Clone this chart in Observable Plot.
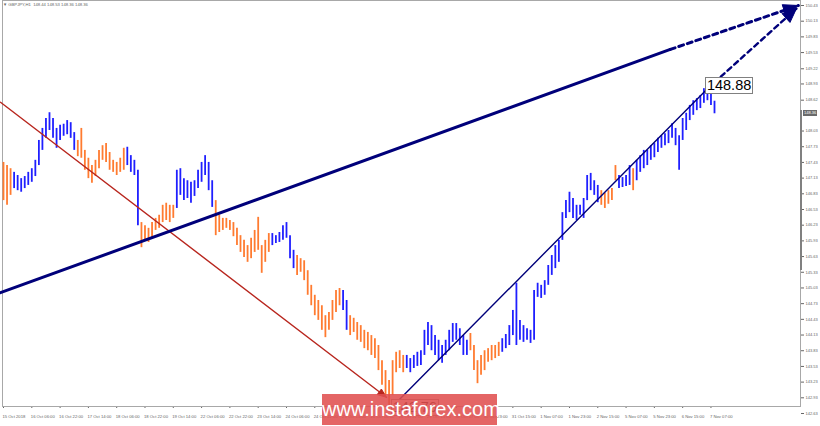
<!DOCTYPE html>
<html>
<head>
<meta charset="utf-8">
<script src="https://cdn.jsdelivr.net/npm/d3@7"></script>
<script src="https://cdn.jsdelivr.net/npm/@observablehq/plot@0.6"></script>
<style>
  body { margin: 0; background: #fff; }
  #wrap { position: relative; width: 820px; height: 426px; overflow: hidden; font-family: "Liberation Sans", Arial, sans-serif; }
  #wrap svg { position: absolute; left: 0; top: 0; }
  .hdr { position: absolute; left: 3px; top: 2px; font-size: 4.2px; color: #666; white-space: pre; }
  .lbl { position: absolute; background: #fff; border: 1px solid #808080; font-family: "Liberation Sans", Arial, sans-serif; font-size: 14.5px; line-height: 15px; padding: 0 1px; color: #000; white-space: nowrap; }
  .cur { position: absolute; background: #6a6a6a; color: #fff; font-size: 4px; line-height: 6px; padding: 0 1px; white-space: nowrap; }
  .strip { position: absolute; background: #808080; }
  .wm { position: absolute; background: rgba(224, 80, 80, 0.88); color: #fff; font-family: "Liberation Sans", Arial, sans-serif; font-size: 20px; text-align: center; line-height: 30px; }
</style>
</head>
<body>
<div id="wrap"></div>
<script>
// ---------- data ----------
const symbolName = "GBPJPY,H1";
const headerOHLC = [148.44, 148.53, 148.36, 148.36];

// 2-hour bars starting 15 Oct 2018 14:00 (high / low prices)
const highs = [
147.43,147.37,147.31,147.24,147.18,147.12,147.16,147.24,147.31,147.47,
147.85,148.08,148.27,148.38,148.27,148.08,148.14,148.16,148.23,148.19,
148.00,147.85,148.08,147.66,147.51,147.37,147.47,147.66,147.75,147.79,
147.62,147.47,147.43,147.51,147.70,147.72,147.56,147.47,147.28,146.28,
146.22,146.17,146.28,146.36,146.42,146.61,146.65,146.61,146.61,147.28,
147.31,147.12,147.08,147.05,147.08,147.28,147.43,147.56,147.43,147.08,
146.70,146.42,146.36,146.36,146.32,146.28,146.17,146.03,145.94,145.84,
145.98,146.13,146.38,145.84,145.94,146.07,146.07,146.03,146.09,146.22,
146.28,146.03,145.75,145.65,145.59,145.55,145.36,145.08,144.89,144.79,
144.69,144.50,144.56,144.79,144.98,145.02,144.98,144.79,144.50,144.45,
144.37,144.31,144.22,144.18,144.12,144.06,143.93,143.64,143.45,143.26,
143.64,143.80,143.83,143.74,143.74,143.68,143.74,143.80,143.83,144.22,
144.37,144.31,144.12,144.03,143.93,144.03,144.22,144.35,144.35,144.25,
144.12,144.03,144.16,143.93,143.64,143.74,143.83,143.87,143.93,143.93,
143.99,144.06,144.14,144.31,144.60,145.12,144.41,144.31,144.25,144.22,
144.98,145.12,145.08,145.17,145.46,145.65,145.84,145.94,146.47,146.70,
146.86,146.74,146.61,146.61,146.74,147.18,147.22,147.08,146.99,146.89,
146.84,146.89,146.93,147.37,147.18,147.14,147.18,147.37,147.31,147.47,
147.56,147.66,147.66,147.75,147.79,147.89,147.94,147.98,148.04,148.17,
148.08,147.94,148.27,148.37,148.52,148.61,148.65,148.71,148.84,148.88,
148.84,148.60
];
const lows = [
146.70,146.61,146.80,146.93,146.89,146.86,146.93,146.99,147.05,147.16,
147.37,147.66,147.89,148.04,147.89,147.70,147.85,147.93,147.96,147.89,
147.66,147.54,147.51,147.28,147.12,147.03,147.16,147.31,147.47,147.43,
147.28,147.24,147.18,147.24,147.28,147.37,147.24,147.18,146.22,145.80,
145.94,145.90,145.98,146.13,146.17,146.28,146.32,146.28,146.36,146.55,
146.80,146.70,146.74,146.65,146.78,146.93,147.05,147.18,146.89,146.57,
146.03,146.09,146.13,146.17,146.13,146.01,145.84,145.71,145.61,145.52,
145.59,145.71,145.75,145.31,145.52,145.71,145.84,145.88,145.90,145.94,
145.98,145.59,145.40,145.27,145.33,145.17,144.89,144.69,144.50,144.41,
144.22,144.08,144.22,144.41,144.56,144.69,144.60,144.22,144.12,144.18,
144.03,143.99,143.87,143.83,143.74,143.68,143.45,143.17,142.97,142.76,
142.97,143.41,143.49,143.41,143.49,143.41,143.49,143.53,143.55,143.74,
143.93,143.83,143.74,143.64,143.59,143.74,143.83,143.99,144.03,143.93,
143.74,143.74,143.83,143.45,143.20,143.36,143.45,143.61,143.64,143.68,
143.72,143.80,143.87,143.93,144.12,143.93,144.03,143.99,144.03,143.97,
144.03,144.85,144.83,144.89,145.08,145.27,145.40,145.52,145.94,146.36,
146.47,146.36,146.32,146.42,146.36,146.70,146.89,146.80,146.66,146.61,
146.55,146.63,146.70,147.08,146.93,146.95,146.97,146.99,146.89,147.08,
147.24,147.31,147.37,147.47,147.52,147.62,147.70,147.75,147.79,147.89,
147.75,147.28,147.85,148.04,148.23,148.33,148.42,148.46,148.56,148.61,
148.52,148.36
];
// wave colouring: bar index where each wave starts, and its direction
const waveStarts = [0, 3, 21, 35, 39, 49, 60, 76, 83, 96, 98, 114, 132, 141, 169, 174, 178, 179];
const waveKinds  = ["down","up","down","up","down","up","down","up","down","up","down","up","down","up","down","up","down","up"];

// time axis labels, one every 16 hourly bars
const timeLabels = ["15 Oct 2018","16 Oct 06:00","16 Oct 22:00","17 Oct 14:00","18 Oct 06:00","18 Oct 22:00",
  "19 Oct 14:00","22 Oct 06:00","22 Oct 22:00","23 Oct 14:00","24 Oct 06:00","24 Oct 22:00","25 Oct 14:00",
  "26 Oct 06:00","26 Oct 22:00","29 Oct 15:00","30 Oct 07:00","30 Oct 23:00","31 Oct 15:00","1 Nov 07:00",
  "1 Nov 23:00","2 Nov 15:00","5 Nov 07:00","5 Nov 23:00","6 Nov 15:00","7 Nov 07:00"];
const priceTicks = [150.43,150.13,149.83,149.53,149.22,148.93,148.62,148.03,147.73,147.43,147.13,146.83,
  146.53,146.23,145.93,145.63,145.33,145.03,144.73,144.43,144.13,143.83,143.53,143.23,142.93,142.63];
const lastPrice = 148.36;
const peakMark = [398, 148.88];  // [hour, price]
const lowMark  = [218, 142.76];

// trend lines: [hour, price] anchors
const trendDown     = [[-1.7, 148.58], [216.5, 142.94]];
const channelTop    = [[-1.7, 144.94], [377, 149.59]];
const channelTopExt = [[377, 149.59], [449.4, 150.43]];
const trendUp       = [[223.3, 142.88], [398, 148.84]];
const trendUpExt    = [[398, 148.84], [448.3, 150.37]];

// ---------- layout ----------
const W = 820, H = 426;
const xDom = [0, 402], xRng = [3, 714];
const yDom = [142.63, 150.43], yRng = [413, 5];
const px = h => xRng[0] + (h - xDom[0]) * (xRng[1] - xRng[0]) / (xDom[1] - xDom[0]);
const py = p => yRng[0] + (p - yDom[0]) * (yRng[1] - yRng[0]) / (yDom[1] - yDom[0]);
const hx = x => xDom[0] + (x - xRng[0]) * (xDom[1] - xDom[0]) / (xRng[1] - xRng[0]);
const pp = y => yDom[0] + (y - yRng[0]) * (yDom[1] - yDom[0]) / (yRng[1] - yRng[0]);

function waveAt(j) {
  let k = 0;
  for (let s = 0; s < waveStarts.length; s++) if (j >= waveStarts[s]) k = s;
  return waveKinds[k];
}
const bars = highs.map((hi, j) => ({hour: 2 * j, hi, lo: lows[j], wave: waveAt(j)}));
const pts = a => a.map(([h, p]) => ({h, p}));

function arrowHead(seg, len, half) {
  const [a, b] = seg;
  const ax = px(a[0]), ay = py(a[1]), bx = px(b[0]), by = py(b[1]);
  const d = Math.hypot(bx - ax, by - ay), ux = (bx - ax) / d, uy = (by - ay) / d;
  const cx = bx - ux * len, cy = by - uy * len;
  const P = [[bx, by], [cx - uy * half, cy + ux * half], [cx + uy * half, cy - ux * half], [bx, by]];
  return P.map(([x, y]) => ({h: hx(x), p: pp(y)}));
}

const RED = "#b8261e", NAVY = "#00007a";
const lineOpts = (stroke, w, extra = {}) => Object.assign({x: "h", y: "p", stroke, strokeWidth: w}, extra);

const chart = Plot.plot({
  width: W, height: H,
  marginLeft: 2, marginRight: 20, marginTop: 0, marginBottom: 20,
  x: {domain: xDom, range: xRng, ticks: timeLabels.map((_, k) => 16 * k), tickFormat: () => "", tickSize: 2, label: null},
  y: {domain: yDom, range: yRng, axis: "right", ticks: priceTicks, tickFormat: d => d.toFixed(2), tickSize: 3, tickPadding: 2, label: null},
  color: {domain: ["down", "up"], range: ["#ff7b30", "#1f1fff"]},
  style: {fontSize: "4px", fontFamily: "Liberation Sans, Arial, sans-serif", color: "#666", background: "#fff"},
  marks: [
    Plot.frame({stroke: "#a8a8a8"}),
    Plot.ruleX(bars, {x: "hour", y1: "lo", y2: "hi", stroke: "wave", strokeWidth: 1.8}),
    Plot.line(pts(trendDown), lineOpts(RED, 1.4)),
    Plot.line(arrowHead(trendDown, 9, 3.5), lineOpts(RED, 1, {fill: RED})),
    Plot.line(pts(channelTop), lineOpts(NAVY, 3)),
    Plot.line(pts(channelTopExt), lineOpts(NAVY, 3, {strokeDasharray: "5,4"})),
    Plot.line(pts(trendUp), lineOpts(NAVY, 1.4)),
    Plot.line(pts(trendUpExt), lineOpts(NAVY, 2.4, {strokeDasharray: "5,4"})),
    Plot.line(arrowHead(channelTopExt, 15, 6), lineOpts(NAVY, 1, {fill: NAVY})),
    Plot.line(arrowHead(trendUpExt, 14, 6), lineOpts(NAVY, 1, {fill: NAVY})),
    Plot.text(timeLabels, {x: (d, k) => 16 * k, frameAnchor: "bottom", dy: 11, dx: -1, textAnchor: "start", text: d => d, fontSize: 4.2, fill: "#666"})
  ]
});

const wrap = document.getElementById("wrap");
wrap.appendChild(chart);

function addDiv(cls, text, css) {
  const el = document.createElement("div");
  el.className = cls;
  el.textContent = text;
  Object.assign(el.style, css);
  wrap.appendChild(el);
  return el;
}
addDiv("hdr", "\u25BC " + symbolName + "  " + headerOHLC.map(v => v.toFixed(2)).join(" "), {});
addDiv("strip", "", {left: "800px", top: "110px", width: "1.5px", height: "160px"});
addDiv("cur", lastPrice.toFixed(2), {left: "803px", top: (py(lastPrice) - 3) + "px"});
addDiv("lbl", peakMark[1].toFixed(2), {left: (px(peakMark[0]) - 2) + "px", top: (py(peakMark[1]) - 9) + "px"});
addDiv("lbl", lowMark[1].toFixed(2), {left: (px(lowMark[0]) + 2) + "px", top: (py(lowMark[1]) - 7) + "px"});
addDiv("wm", "www.instaforex.com", {left: "322px", top: "394px", width: "175px", height: "31px"});
</script>
</body>
</html>
